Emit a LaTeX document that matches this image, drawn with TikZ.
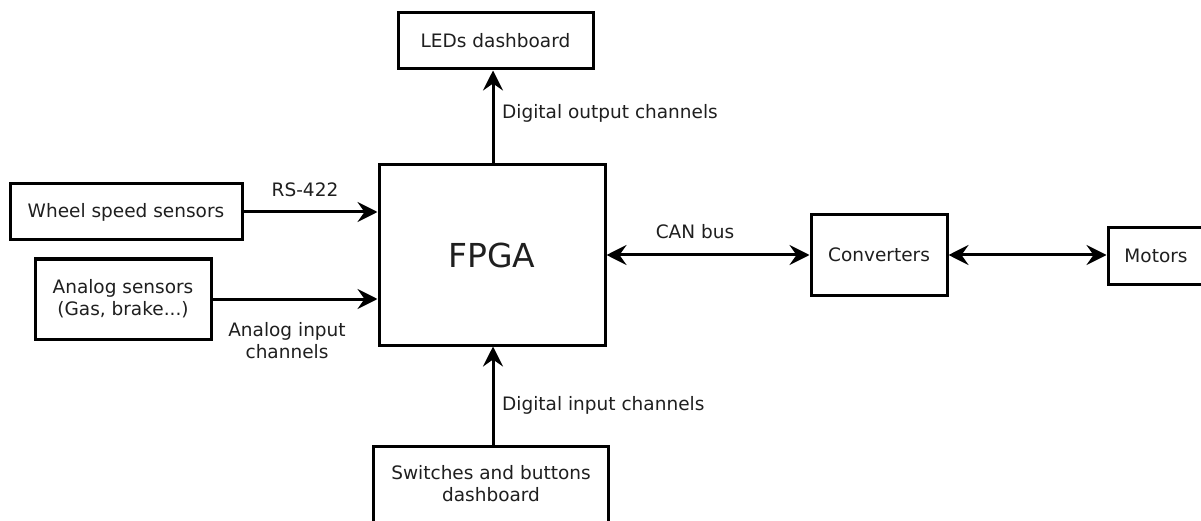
\documentclass[tikz,border=0pt]{standalone}
\usepackage{fontspec}
\setmainfont{DejaVu Sans}
\usetikzlibrary{arrows.meta,calc}
\begin{document}
\begin{tikzpicture}[x=1pt,y=-1pt,
  box/.style={draw=black,line width=3pt,inner sep=0pt,align=center,
    font=\fontsize{18.5}{22}\selectfont,text=black!88},
  lbl/.style={inner sep=0pt,align=center,font=\fontsize{18.5}{22}\selectfont,text=black!88},
  conn/.style={line width=3pt,-{Stealth[length=20pt,width=20pt,inset=7pt]}},
  bconn/.style={line width=3pt,{Stealth[length=20pt,width=20pt,inset=7pt]}-{Stealth[length=20pt,width=20pt,inset=7pt]}}]
\useasboundingbox[fill=white] (0,0) rectangle (1201,521);

\node[box,minimum width=195pt,minimum height=56pt] (leds) at (495.5,41) {LEDs dashboard};
\node[box,minimum width=226pt,minimum height=180pt,font=\fontsize{33}{36}\selectfont] (fpga) at (492,255) {FPGA};
\node[box,minimum width=232pt,minimum height=56pt] (wheel) at (126,212) {Wheel speed sensors};
\node[box,minimum width=176pt,minimum height=80pt] (analog) at (123,299) {Analog sensors\\(Gas, brake...)};
\node[box,minimum width=136pt,minimum height=80pt] (conv) at (879,255) {Converters};
\node[box,minimum width=96pt,minimum height=56pt] (motors) at (1156,256) {Motors};
\node[lbl,minimum width=234pt,minimum height=74pt] (sw) at (491,484) {Switches and buttons\\dashboard};
\draw[line width=3pt] ([yshift=-20pt]sw.south west) |- (sw.north east) -- ([yshift=-20pt]sw.south east);

\draw[conn] (wheel.east) -- (wheel.east -| fpga.west);
\draw[conn] (analog.east) -- (analog.east -| fpga.west);
\draw[conn] ([xshift=1pt]fpga.north) -- ([xshift=1pt]fpga.north |- leds.south);
\draw[conn] ([xshift=2pt]sw.north) -- ([xshift=2pt]sw.north |- fpga.south);
\draw[bconn] (fpga.east) -- (conv.west);
\draw[bconn] (conv.east) -- (conv.east -| motors.west);

\node[lbl] (lrs) at (305,190) {RS-422};
\node[lbl] (lan) at (287,341) {Analog input\\channels};
\node[lbl,anchor=west] (ldo) at (502,113) {Digital output channels};
\node[lbl,anchor=west] (ldi) at (502,405) {Digital input channels};
\node[lbl] (lcan) at (695,232) {CAN bus};
\end{tikzpicture}
\end{document}
